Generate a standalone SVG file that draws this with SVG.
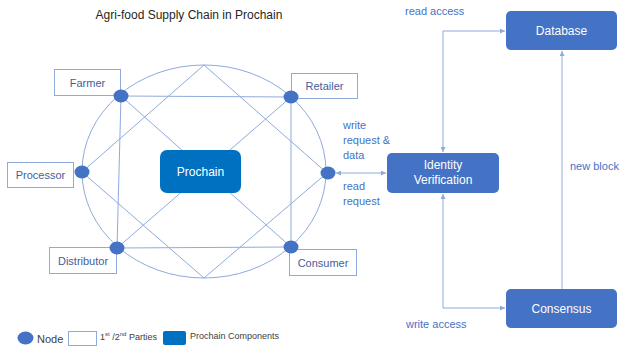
<svg xmlns="http://www.w3.org/2000/svg" width="621" height="347" viewBox="0 0 621 347">
<defs>
<style>
text{font-family:"Liberation Sans",Arial,sans-serif}
.ln{stroke:#8FAADC;stroke-width:1;fill:none}
.nd{fill:#4472C4}
.pt{fill:#fff;stroke:#8FAADC;stroke-width:1}
.pl{font-size:11px;fill:#44609A;text-anchor:middle;dominant-baseline:central}
.bb{fill:#4472C4}
.bt{font-size:12px;fill:#fff;text-anchor:middle;dominant-baseline:central}
.lb{font-size:11px;fill:#4472C4}
.lg{font-size:9px;fill:#404040;dominant-baseline:central}
</style>
<marker id="ah" viewBox="0 0 10 10" refX="10" refY="5" markerWidth="5" markerHeight="5" orient="auto-start-reverse" markerUnits="userSpaceOnUse">
<path d="M0,0L10,5L0,10z" fill="#8FAADC"/>
</marker>
</defs>
<rect width="621" height="347" fill="#fff"/>
<text x="189" y="19" font-size="12" fill="#262626" text-anchor="middle">Agri-food Supply Chain in Prochain</text>

<g id="connectors">
<ellipse class="ln" cx="204" cy="171.5" rx="122" ry="106.5"/>
<path class="ln" d="M204,65L82,172L204,278L327,173Z"/>
<path class="ln" d="M121,96L291,97L291,247L117,248Z"/>
<path class="ln" d="M121,96L291,247M291,97L117,248"/>
<path class="ln" d="M336,173L386,173" marker-start="url(#ah)" marker-end="url(#ah)"/>
<path class="ln" d="M443,152L443,31L505,31" marker-start="url(#ah)" marker-end="url(#ah)"/>
<path class="ln" d="M443,194L443,308L505,308" marker-start="url(#ah)" marker-end="url(#ah)"/>
<path class="ln" d="M562,289L562,51" marker-end="url(#ah)"/>
</g>

<g id="prochain">
<rect x="160" y="150" width="81" height="43" rx="7" fill="#0070C0"/>
<text class="bt" x="200.5" y="171.5">Prochain</text>
</g>

<g id="farmer">
<rect class="pt" x="54.5" y="69.5" width="66" height="26"/>
<text class="pl" x="87.5" y="82.5">Farmer</text>
<ellipse class="nd" cx="121" cy="96" rx="7.5" ry="6.5"/>
</g>
<g id="retailer">
<rect class="pt" x="291.5" y="73.5" width="66" height="25"/>
<text class="pl" x="324.5" y="86">Retailer</text>
<ellipse class="nd" cx="291" cy="97" rx="7.5" ry="6.5"/>
</g>
<g id="processor">
<rect class="pt" x="7.5" y="162.5" width="66" height="25"/>
<text class="pl" x="40.5" y="175">Processor</text>
<ellipse class="nd" cx="82" cy="172" rx="7.5" ry="6.5"/>
</g>
<g id="distributor">
<rect class="pt" x="49.5" y="247.5" width="67" height="26"/>
<text class="pl" x="83" y="260.5">Distributor</text>
<ellipse class="nd" cx="117" cy="248" rx="7.5" ry="6.5"/>
</g>
<g id="consumer">
<rect class="pt" x="289.5" y="249.5" width="67" height="26"/>
<text class="pl" x="323" y="262.5">Consumer</text>
<ellipse class="nd" cx="291" cy="247" rx="7.5" ry="6.5"/>
</g>
<g id="right-node">
<ellipse class="nd" cx="328" cy="173" rx="7.5" ry="6.5"/>
</g>

<g id="identity">
<rect class="bb" x="387" y="153" width="112" height="40" rx="5"/>
<text class="bt" x="443" y="165">Identity</text>
<text class="bt" x="443" y="180">Verification</text>
</g>
<g id="database">
<rect class="bb" x="506" y="11" width="111" height="39" rx="5"/>
<text class="bt" x="561.5" y="31">Database</text>
</g>
<g id="consensus">
<rect class="bb" x="506" y="289" width="111" height="39" rx="5"/>
<text class="bt" x="561.5" y="309">Consensus</text>
</g>

<g id="labels">
<text class="lb" x="405" y="15">read access</text>
<text class="lb" x="343" y="129">write</text>
<text class="lb" x="343" y="144">request &amp;</text>
<text class="lb" x="343" y="159">data</text>
<text class="lb" x="343" y="190">read</text>
<text class="lb" x="343" y="205">request</text>
<text class="lb" x="570" y="170">new block</text>
<text class="lb" x="406" y="328">write access</text>
</g>

<g id="legend">
<ellipse class="nd" cx="25.5" cy="338" rx="8" ry="6.5"/>
<text x="37" y="338.5" font-size="11" fill="#404040" dominant-baseline="central">Node</text>
<rect class="pt" x="68.5" y="331.5" width="28" height="14"/>
<text class="lg" x="100" y="337">1<tspan font-size="6" dy="-3">st</tspan><tspan dy="3"> /2</tspan><tspan font-size="6" dy="-3">nd</tspan><tspan dy="3"> Parties</tspan></text>
<rect x="163" y="331" width="23" height="14" rx="2" fill="#0070C0"/>
<text class="lg" x="190" y="336">Prochain Components</text>
</g>
</svg>
